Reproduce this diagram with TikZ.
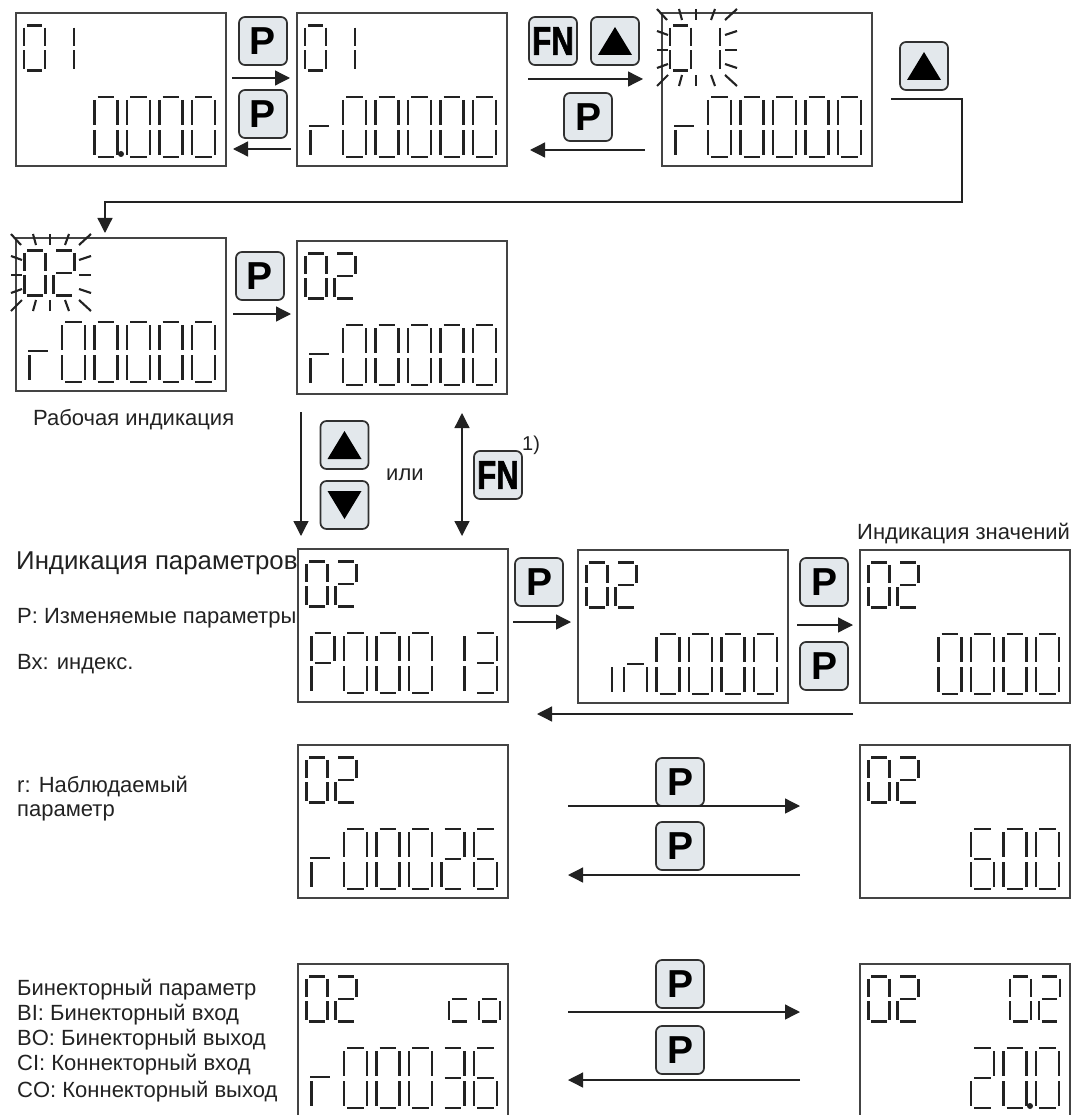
\documentclass[tikz,border=0pt]{standalone}
\usepackage{fontspec}
\setmainfont{Liberation Sans}
\newfontfamily\fnfont[BoldFeatures={FakeBold=1.5,FakeStretch=.78}]{Liberation Sans}
\usepackage{xcolor}
\definecolor{LcdInk}  {HTML}{222222}
\definecolor{LcdFrame}{HTML}{444444}
\definecolor{KeyFill} {HTML}{E3E8EC}
\definecolor{KeyEdge} {HTML}{303030}
\usetikzlibrary{arrows.meta,positioning,calc}
\def\lcdsega{(.14,0)--(.86,0)}
\def\lcdsegb{(1,.05)--(1,.46)}
\def\lcdsegc{(1,.55)--(1,.96)}
\def\lcdsegd{(.14,1)--(.86,1)}
\def\lcdsege{(0,.55)--(0,.96)}
\def\lcdsegf{(0,.05)--(0,.46)}
\def\lcdsegg{(.14,.5)--(.86,.5)}
\def\lcdsegh{(-.05,.49)--(.8,.49)}
\def\chZero{a,b,c,d,e,f}
\def\chOne{b,c}
\def\chTwo{a,b,g,e,d}
\def\chThree{a,b,g,c,d}
\def\chSix{a,f,g,e,c,d}
\newcommand{\lcdchar}[6]{%
  \begin{scope}[shift={(#1.north west)},xshift={(#2)*1pt},yshift=-#3pt,x=#4pt,y=-#5pt]
    \edef\seglist{#6}
    \foreach \seg in \seglist {
      \edef\segpath{\csname lcdseg\seg\endcsname}
      \draw[lcdline] \segpath;
    }
  \end{scope}}
\newcommand{\lcdtop}[3]{\lcdchar{#1}{#2}{12.5}{21}{45}{#3}}
\newcommand{\lcdbig}[3]{\lcdchar{#1}{176-32.5*#2}{84}{23}{60}{#3}}
\newcommand{\lcdblink}[1]{%
  \begin{scope}[shift={(#1.north west)}]
    \foreach \xa/\ya/\xb/\yb in {-5/-4/5/7,17/-4/20/7,34/-4/34/7,53/-4/49/7,75/-4/63/7,
      -5/18/6/22,-5/37/6/37,-5/55/6/51,75/18/63/22,75/37/63/37,75/55/63/51,
      -5/73/6/62,17/73/20/62,34/73/34/62,53/73/49/62,75/73/63/62}
      \draw[lcdline] (\xa,\ya)--(\xb,\yb);
  \end{scope}}

\begin{document}
\begin{tikzpicture}[x=1pt,y=-1pt,
  screen/.style={draw=LcdFrame,line width=1.5pt,anchor=north west,inner sep=0pt,
    outer sep=0pt,minimum width=210pt,minimum height=153pt},
  lcdline/.style={draw=LcdInk,line width=2.1pt},
  keybox/.style={draw=KeyEdge,fill=KeyFill,line width=1.7pt,rounded corners=6pt,
    minimum size=48pt,inner sep=0pt,text=black,font=\fontsize{39}{39}\selectfont\bfseries},
  fnkey/.style={keybox,font=\fnfont\fontsize{40}{40}\selectfont\bfseries},
  upkey/.style={keybox,path picture={\fill[black,sharp corners]
    ([shift={(-17,14)}]path picture bounding box.center)
    -- ([shift={(17,14)}]path picture bounding box.center)
    -- ([shift={(0,-14)}]path picture bounding box.center) -- cycle;}},
  downkey/.style={keybox,path picture={\fill[black,sharp corners]
    ([shift={(-17,-14)}]path picture bounding box.center)
    -- ([shift={(17,-14)}]path picture bounding box.center)
    -- ([shift={(0,14)}]path picture bounding box.center) -- cycle;}},
  arr/.style={-{Triangle[length=15pt,width=15pt]},draw=LcdInk,line width=1.3pt},
  lbl/.style={anchor=west,inner sep=0pt,yshift=-2pt,text=LcdInk,font=\fontsize{22}{24}\selectfont},
  lblhead/.style={lbl,font=\fontsize{25.8}{28}\selectfont}]
  \useasboundingbox (0,0) rectangle (1072,1115);
  \node[screen](B1) at (16,13) {};
  \node[screen](B2) at (297,13) {};
  \node[screen](B3) at (662,13) {};
  \node[screen](B4) at (16,238) {};
  \node[screen](B5) at (297,241) {};
  \node[screen](B6) at (298,549) {};
  \node[screen](B7) at (578,550) {};
  \node[screen](B8) at (860,550) {};
  \node[screen](B9) at (298,745) {};
  \node[screen](B10) at (860,745) {};
  \node[screen](B11) at (298,964) {};
  \node[screen](B12) at (860,964) {};
  % Status digits
  \foreach \b in {B1,B2,B3}{
    \lcdtop{\b}{8}{\chZero}
    \lcdtop{\b}{37}{\chOne}
  }
  \foreach \b in {B4,B5,B6,B7,B8,B9,B10,B11,B12}{
    \lcdtop{\b}{8.5}{\chZero}
    \lcdtop{\b}{37.5}{\chTwo}
  }
  \lcdtop{B11}{151}{g,e,d}
  \lcdtop{B11}{181}{g,c,d,e}
  \lcdtop{B12}{150}{\chZero}
  \lcdtop{B12}{179}{\chTwo}
  \lcdblink{B3}
  \lcdblink{B4}
  % Value digits
  \foreach \b in {B2,B3,B4,B5}{
    \foreach \i in {0,...,4}{\lcdbig{\b}{\i}{\chZero}}
    \lcdbig{\b}{5}{e,h}
  }
  \foreach \i in {0,...,3}{
    \lcdbig{B1}{\i}{\chZero}
    \lcdbig{B7}{\i}{\chZero}
    \lcdbig{B8}{\i}{\chZero}
  }
  \foreach \i in {2,3,4}{
    \lcdbig{B6}{\i}{\chZero}
    \lcdbig{B9}{\i}{\chZero}
    \lcdbig{B11}{\i}{\chZero}
  }
  \lcdbig{B6}{5}{a,b,f,g,e}
  \lcdbig{B6}{1}{\chOne}
  \lcdbig{B6}{0}{\chThree}
  \lcdchar{B7}{34}{84}{23}{60}{e}
  \lcdbig{B7}{4}{g,e,c}
  \lcdbig{B9}{5}{e,h}
  \lcdbig{B9}{1}{\chTwo}
  \lcdbig{B9}{0}{\chSix}
  \lcdbig{B10}{2}{\chSix}
  \lcdbig{B10}{1}{\chZero}
  \lcdbig{B10}{0}{\chZero}
  \lcdbig{B11}{5}{e,h}
  \lcdbig{B11}{1}{\chThree}
  \lcdbig{B11}{0}{\chSix}
  \lcdbig{B12}{2}{\chTwo}
  \lcdbig{B12}{1}{\chZero}
  \lcdbig{B12}{0}{\chZero}
  \fill[LcdInk] ([shift={(105,141)}]B1.north west) circle (3pt);
  \fill[LcdInk] ([shift={(170,142)}]B12.north west) circle (3pt);
  % Keys
  \node[keybox](K1) at (263,41) {P};
  \node[keybox](K2) at (263,114) {P};
  \node[fnkey](K3) at (553,41) {FN};
  \node[upkey](K4) at (615,41) {};
  \node[keybox](K5) at (588,117) {P};
  \node[upkey](K6) at (924,66) {};
  \node[keybox](K7) at (260,276) {P};
  \node[upkey](K8) at (344.5,445) {};
  \node[downkey](K9) at (344.5,505) {};
  \node[fnkey](K10) at (498,475) {FN};
  \node[keybox](K11) at (539,582) {P};
  \node[keybox](K12) at (824,582) {P};
  \node[keybox](K13) at (824,666) {P};
  \node[keybox](K14) at (680,782) {P};
  \node[keybox](K15) at (680,846) {P};
  \node[keybox](K16) at (680,984) {P};
  \node[keybox](K17) at (680,1050) {P};
  % Arrow ends
  \coordinate (A1s) at (232,78);    \coordinate (A1e) at (290,78);
  \coordinate (A2s) at (291,149);   \coordinate (A2e) at (233,149);
  \coordinate (A3s) at (528,79);    \coordinate (A3e) at (643,79);
  \coordinate (A4s) at (645,150);   \coordinate (A4e) at (530,150);
  \coordinate (A5s) at (891,99);    \coordinate (A5e) at (105,233);
  \coordinate (A6s) at (233,314);   \coordinate (A6e) at (291,314);
  \coordinate (A7s) at (301,412);   \coordinate (A7e) at (301,536);
  \coordinate (A8s) at (462,413);   \coordinate (A8e) at (462,536);
  \coordinate (A9s) at (513,622);   \coordinate (A9e) at (571,622);
  \coordinate (A10s) at (797,625);  \coordinate (A10e) at (853,625);
  \coordinate (A11s) at (853,714);  \coordinate (A11e) at (537,714);
  \coordinate (A12s) at (568,806);  \coordinate (A12e) at (800,806);
  \coordinate (A13s) at (800,875);  \coordinate (A13e) at (568,875);
  \coordinate (A14s) at (568,1012); \coordinate (A14e) at (800,1012);
  \coordinate (A15s) at (800,1080); \coordinate (A15e) at (568,1080);
  \foreach \n in {1,2,3,4,6,7,9,10,11,12,13,14,15}
    \draw[arr](A\n s)--(A\n e);
  \draw[arr,{Triangle[length=15pt,width=15pt]}-{Triangle[length=15pt,width=15pt]}](A8s)--(A8e);
  \draw[arr](A5s)-|(962,202)-|(A5e);
  % Annotation
  \node[lbl](T1) at (33,418) {Рабочая индикация};
  \node[lbl](T2) at (386,473) {или};
  \node[lbl,font=\fontsize{20}{20}\selectfont](T3) at (522,443) {1)};
  \node[lblhead](T4) at (16,561) {Индикация параметров};
  \node[lbl](T5) at (17,616) {P: Изменяемые параметры};
  \node[lbl](T6) at (17,662) {Вх: индекс.};
  \node[lbl](T7) at (857,532) {Индикация значений};
  \node[lbl](T8) at (17,785) {r: Наблюдаемый};
  \node[lbl](T9) at (17,811) {параметр};
  \node[lbl](T10) at (17,988) {Бинекторный параметр};
  \node[lbl](T11) at (17,1013) {BI: Бинекторный вход};
  \node[lbl](T12) at (17,1038) {BO: Бинекторный выход};
  \node[lbl](T13) at (17,1063) {CI: Коннекторный вход};
  \node[lbl](T14) at (17,1090) {CO: Коннекторный выход};
\end{tikzpicture}
\end{document}
